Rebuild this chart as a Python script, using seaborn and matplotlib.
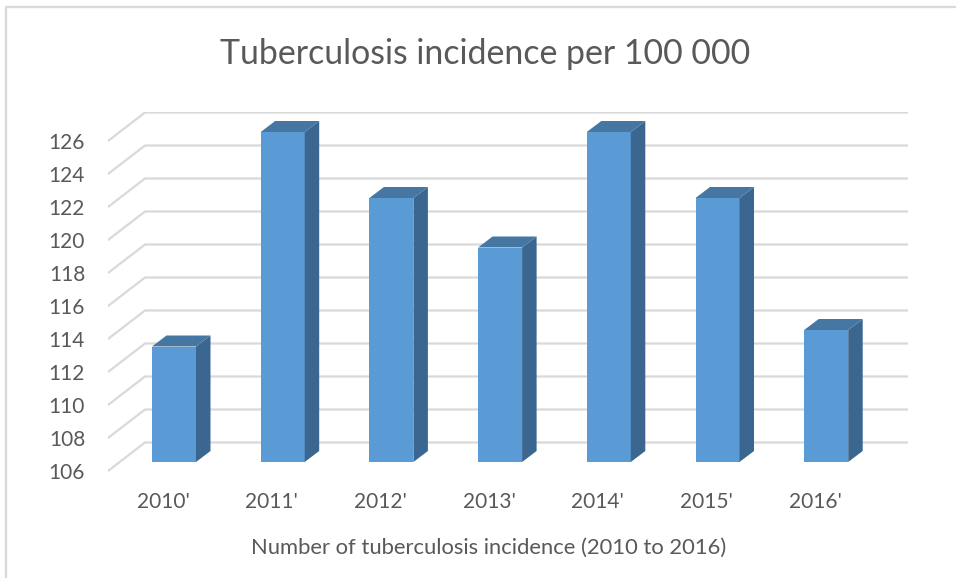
import matplotlib
matplotlib.use("Agg")
import matplotlib.pyplot as plt
from matplotlib.patches import Polygon
import numpy as np
import pandas as pd
import seaborn as sns

years = ["2010'", "2011'", "2012'", "2013'", "2014'", "2015'", "2016'"]
incidence = [113, 126, 122, 119, 126, 122, 114]
y_ticks = [106, 108, 110, 112, 114, 116, 118, 120, 122, 124, 126]

title = "Tuberculosis incidence per 100 000"
x_title = "Number of tuberculosis incidence (2010 to 2016)"

W, H = 956, 578
base = 106
px_per_unit = 16.5
px_per_cat = 108.7
bar_w = 44 / px_per_cat
# 3d look: how far back the faces go, in data units
depth_x = 14.5 / px_per_cat
depth_y = 11 / px_per_unit

sns.set_theme(style="white")
plt.rcParams["font.family"] = ["Lato", "DejaVu Sans"]

fig = plt.figure(figsize=(W / 100, H / 100), dpi=100)
# axes box in pixels: x 108-908, y 112-480
ax = fig.add_axes([108 / W, 1 - 480 / H, 800 / W, 368 / H])
df = pd.DataFrame({"year": years, "incidence": incidence})
sns.barplot(data=df, x="year", y="incidence", color="#5B9BD5", saturation=1,
            width=bar_w, ax=ax, zorder=3, linewidth=0, edgecolor="none")

ax.set_xlim((108 - 174) / px_per_cat, (908 - 174) / px_per_cat)
ax.set_ylim(base - 18 / px_per_unit, base + 350 / px_per_unit)

# bars start from the axis floor, not from 0
for patch, val in zip(ax.patches, incidence):
    patch.set_y(base)
    patch.set_height(val - base)
    x0 = patch.get_x()
    x1 = x0 + patch.get_width()
    side = [(x1, base), (x1 + depth_x, base + depth_y),
            (x1 + depth_x, val + depth_y), (x1, val)]
    top = [(x0, val), (x0 + depth_x, val + depth_y),
           (x1 + depth_x, val + depth_y), (x1, val)]
    ax.add_patch(Polygon(side, closed=True, fc="#3A6690", ec="none", zorder=3))
    ax.add_patch(Polygon(top, closed=True, fc="#4677A3", ec="none", zorder=3))

# gridlines: back wall + slanted side wall
wall_front = -9 / px_per_unit
wall_back = 19.5 / px_per_unit
x_left, x_back = ax.get_xlim()[0], (145 - 174) / px_per_cat
x_right = ax.get_xlim()[1]
for v in y_ticks:
    ax.plot([x_left, x_back, x_right], [v + wall_front, v + wall_back, v + wall_back],
            color="#D9D9D9", lw=1.6, zorder=1, solid_joinstyle="miter")

ax.set_yticks([v + wall_front for v in y_ticks])
ax.set_yticklabels([str(v) for v in y_ticks])
ax.set_xticks([i - 11 / px_per_cat for i in range(len(years))])
ax.set_xticklabels(years)
ax.tick_params(axis="both", length=0, labelsize=15, labelcolor="#595959")
ax.tick_params(axis="y", pad=16.5)
ax.tick_params(axis="x", pad=8.5)
ax.set_xlabel("")
ax.set_ylabel("")
for s in ax.spines.values():
    s.set_visible(False)
ax.patch.set_alpha(0)

fig.text(485.5 / W, 1 - 54 / H, title, fontsize=24.4, color="#595959", ha="center", va="center")
fig.text(488.5 / W, 1 - 548 / H, x_title, fontsize=15.8, color="#595959", ha="center", va="center")

# chart frame, only top and left edge are inside the crop
fig.add_artist(plt.Line2D([6 / W, 6 / W, 1], [0, 1 - 6.5 / H, 1 - 6.5 / H],
                          color="#D9D9D9", lw=1.6, transform=fig.transFigure))

fig.savefig("out.png", dpi=100)
